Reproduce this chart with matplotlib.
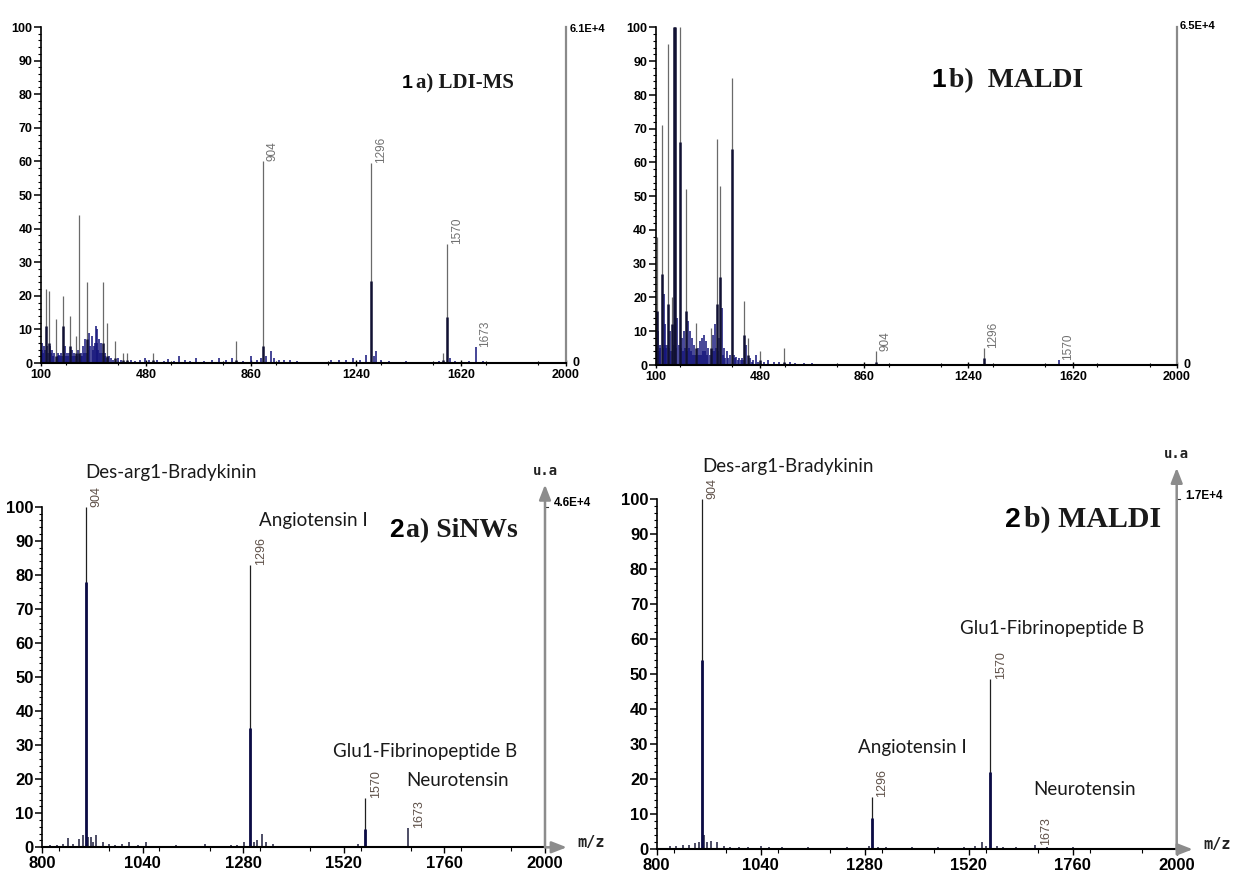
import matplotlib
matplotlib.use('Agg')
import matplotlib.pyplot as plt
from matplotlib.ticker import MultipleLocator

# ---------------- data ----------------
# tall peaks: (m/z, top of thin line %, top of dark core %)
ldi_peaks = [(117, 22, 11), (128, 21.5, 6), (153, 13, 2), (181, 20, 11), (206, 14, 5),
             (227, 8, 3), (239, 44, 3), (266, 24, 7), (325, 24, 6), (340, 12, 2),
             (368, 6.5, 1.5), (395, 3, 1), (410, 3, 1), (506, 3, 1), (805, 6.5, 1),
             (904, 60, 5), (1296, 59.5, 24.5), (1555, 3, 1), (1570, 35.5, 13.6)]
# small peaks / noise: (m/z, %)
ldi_noise = [(102, 4), (105, 6), (108, 3), (110, 5), (113, 4), (121, 5), (125, 3), (131, 4),
             (134, 5), (137, 3), (140, 4), (144, 2), (147, 3), (157, 2), (160, 3), (163, 2),
             (166, 2.5), (169, 2), (172, 3), (176, 2), (185, 3), (188, 5), (191, 2), (194, 3),
             (197, 2), (200, 3), (210, 2), (213, 4), (217, 2), (220, 3), (224, 2), (230, 2),
             (233, 4), (243, 2), (246, 3), (250, 2), (252, 5), (256, 3), (259, 7), (262, 3),
             (270, 4), (275, 9), (279, 5), (283, 8), (287, 4), (291, 5), (295, 6), (298, 11),
             (301, 6), (304, 10), (308, 4), (311, 7), (315, 3), (318, 6), (321, 3), (330, 2),
             (333, 3), (337, 1.5), (344, 1.5), (347, 2), (355, 1.5), (362, 1), (380, 1.5),
             (388, 1), (425, 1), (440, 0.6), (460, 1), (475, 1.5), (490, 0.8), (520, 1),
             (545, 0.7), (560, 1.2), (580, 0.6), (600, 2), (620, 0.8), (640, 0.6), (660, 1.5),
             (690, 0.6), (720, 1), (745, 1.5), (770, 1), (790, 1.5), (830, 0.5), (859, 2),
             (880, 1), (895, 1.5), (915, 2), (931, 3.5), (945, 1.5), (960, 1), (980, 1),
             (1000, 1), (1025, 0.5), (1100, 0.3), (1150, 1), (1180, 0.8), (1205, 1),
             (1230, 1.5), (1255, 1), (1275, 2.5), (1305, 2), (1312, 3.5), (1330, 1),
             (1360, 0.6), (1420, 0.5), (1475, 0.3), (1540, 0.5), (1580, 1.5), (1600, 0.5),
             (1650, 0.5), (1673, 4.7), (1700, 0.5), (1780, 0.3)]
ldi_labels = [(904, 60), (1296, 59.5), (1570, 35.5), (1673, 4.7)]

maldi1_peaks = [(104, 38, 16), (123, 71, 27), (147, 95, 18), (159, 20, 12), (166, 100, 100),
                (172, 100, 100), (190, 100, 66), (211, 52, 16), (247, 12.5, 5), (303, 11, 5),
                (325, 67, 18), (335, 53, 26), (378, 85, 64), (424, 19, 9), (436, 8, 3),
                (480, 4, 1.5), (568, 5, 1), (904, 4.2, 1), (1296, 5.1, 2)]
maldi1_noise = [(101, 5), (107, 6), (110, 10), (113, 4), (115, 5), (118, 6), (127, 5), (130, 21),
                (133, 6), (136, 12), (139, 5), (142, 6), (150, 5), (153, 10), (156, 4), (162, 6),
                (176, 5), (180, 14), (184, 6), (194, 5), (197, 8), (201, 4), (204, 10), (208, 5),
                (215, 4), (218, 13), (222, 5), (225, 10), (229, 4), (232, 8), (236, 3), (240, 6),
                (244, 3), (251, 3), (255, 5), (259, 3), (263, 7), (266, 3), (270, 8), (274, 4),
                (278, 9), (282, 4), (285, 7), (289, 3), (293, 5), (297, 3), (307, 4), (310, 9),
                (314, 4), (318, 12), (321, 5), (329, 4), (333, 8), (341, 17), (345, 3), (350, 5),
                (355, 2), (360, 4), (365, 2), (370, 3), (385, 3), (390, 2), (395, 2.5), (400, 1.5),
                (405, 2), (410, 1.5), (415, 2), (420, 1.5), (430, 6), (445, 2), (450, 1),
                (455, 1.5), (465, 3), (472, 1), (495, 1), (510, 1.5), (530, 1), (550, 1),
                (590, 0.8), (610, 0.6), (640, 0.6), (670, 0.5), (700, 0.4), (740, 0.4),
                (780, 0.3), (820, 0.3), (860, 0.3), (1000, 0.2), (1570, 1.5)]
maldi1_labels = [(904, 4.2), (1296, 5.1), (1570, 1.5)]

sinw_peaks = [(904, 100, 78), (1296, 83, 35), (1570, 14.4, 5.3)]
sinw_noise = [(820, 0.6), (835, 0.8), (850, 1), (863, 2.7), (875, 1), (889, 2.5), (897, 3.5),
              (910, 3), (916, 3), (922, 1.5), (929, 3.5), (945, 1.5), (960, 1), (975, 0.8),
              (990, 1), (1007, 1.5), (1030, 0.8), (1048, 1.5), (1080, 0.5), (1120, 0.6),
              (1150, 0.4), (1189, 1), (1220, 0.5), (1251, 0.8), (1266, 0.8), (1283, 1.5),
              (1305, 1.5), (1313, 2), (1324, 4), (1335, 1.5), (1350, 1), (1380, 0.4),
              (1450, 0.3), (1530, 0.3), (1555, 1), (1673, 5.8), (1700, 0.3)]
sinw_labels = [(904, 100), (1296, 83), (1570, 14.4), (1673, 5.8)]

maldi2_peaks = [(904, 100, 54), (1296, 14.9, 9), (1570, 48.6, 22.2)]
maldi2_noise = [(815, 0.5), (830, 1), (845, 1), (860, 1.2), (875, 1.3), (888, 1.8), (897, 2),
                (908, 4), (915, 2), (926, 2.5), (940, 2), (955, 1), (970, 0.8), (990, 0.6),
                (1010, 0.8), (1040, 1), (1060, 0.6), (1090, 0.6), (1120, 0.5), (1150, 0.6),
                (1180, 0.5), (1210, 0.5), (1240, 0.6), (1270, 0.5), (1290, 1), (1310, 0.8),
                (1330, 0.7), (1360, 0.5), (1390, 0.6), (1420, 0.5), (1450, 0.6), (1480, 0.5),
                (1510, 0.7), (1535, 1), (1551, 2), (1560, 1), (1585, 1), (1600, 0.6),
                (1630, 0.6), (1673, 1.3), (1700, 0.6), (1740, 0.5), (1760, 0.8)]
maldi2_labels = [(904, 100), (1296, 14.9), (1570, 48.6), (1673, 1.3)]

# compound names: (text, m/z, %)
sinw_names = [('Des-arg1-Bradykinin', 1107, 110), ('Angiotensin I', 1448, 96),
              ('Glu1-Fibrinopeptide B', 1713, 28), ('Neurotensin', 1792, 19.5)]
maldi2_names = [('Des-arg1-Bradykinin', 1104, 109.5), ('Angiotensin I', 1389, 29),
                ('Glu1-Fibrinopeptide B', 1713, 63), ('Neurotensin', 1788, 17)]

top_xticks = [100, 480, 860, 1240, 1620, 2000]
bot_xticks = [800, 1040, 1280, 1520, 1760, 2000]

W, H = 1239, 871
TICKFONT = ['Liberation Sans Narrow', 'Liberation Sans', 'DejaVu Sans']
NAMEFONT = ['Lato', 'DejaVu Sans']


def fx(x):
    return x / W


def fy(y):
    return 1 - y / H


def draw_spectrum(ax, peaks, noise, thin_col, core_col, noise_col, core_lw):
    nm = [p[0] for p in noise]
    nh = [p[1] for p in noise]
    ax.vlines(nm, 0, nh, color=noise_col, lw=1.1)
    pm = [p[0] for p in peaks]
    ph = [p[1] for p in peaks]
    pc = [p[2] for p in peaks]
    ax.vlines(pm, 0, ph, color=thin_col, lw=0.9)
    ax.vlines(pm, 0, pc, color=core_col, lw=core_lw)


def style_axis(ax, xlim, xticks, small):
    ax.set_xlim(*xlim)
    ax.set_ylim(0, 100)
    ax.set_xticks(xticks)
    ax.set_yticks(range(0, 101, 10))
    ax.xaxis.set_minor_locator(MultipleLocator((xticks[1] - xticks[0]) / 2))
    ax.yaxis.set_minor_locator(MultipleLocator(2))
    for s in ['top', 'right']:
        ax.spines[s].set_visible(False)
    ax.spines['left'].set_linewidth(1.2)
    ax.spines['bottom'].set_linewidth(1.5)
    fs = 9 if small else 12
    ax.tick_params(axis='y', which='major', length=5, width=1.1, pad=1)
    ax.tick_params(axis='y', which='minor', length=2.5, width=0.8)
    ax.tick_params(axis='x', which='major', length=4, width=1, direction='inout', pad=2)
    ax.tick_params(axis='x', which='minor', length=3, width=0.8, direction='inout')
    for lab in ax.get_xticklabels() + ax.get_yticklabels():
        lab.set_family(TICKFONT)
        lab.set_fontweight('bold')
        lab.set_fontsize(fs)


def peak_labels(ax, labels, color, fs, dx):
    for mz, h in labels:
        ax.annotate(str(mz), (mz, h), xytext=(dx, 0), textcoords='offset points',
                    rotation=90, ha='left', va='bottom', color=color, fontsize=fs,
                    family=['Liberation Sans', 'DejaVu Sans'], annotation_clip=False)


def title(x_num, x_txt, y_base, num, txt, fs):
    plt.figtext(fx(x_num), fy(y_base), num, ha='right', va='baseline', fontsize=fs,
                family=['Liberation Sans', 'DejaVu Sans'], fontweight='bold')
    plt.figtext(fx(x_txt), fy(y_base), txt, ha='left', va='baseline', fontsize=fs + 1,
                family=['Liberation Serif', 'DejaVu Serif'], fontweight='bold', color='#1a1a1a')


fig = plt.figure(figsize=(W / 100, H / 100), dpi=100)

# ---------------- 1a) LDI-MS ----------------
ax1 = fig.add_axes([fx(41), fy(363), (566 - 41) / W, (363 - 27) / H])
draw_spectrum(ax1, ldi_peaks, ldi_noise, '#6a6a6a', '#111133', '#14147a', 1.8)
style_axis(ax1, (100, 2000), top_xticks, True)
ax1.spines['right'].set_visible(True)
ax1.spines['right'].set_color('#8a8a8a')
ax1.spines['right'].set_linewidth(1.6)
ax1.tick_params(axis='y', which='both', right=False)
peak_labels(ax1, ldi_labels, '#707070', 8.5, 2.5)
ax1.text(2014, 99.5, '6.1E+4', fontsize=8, fontweight='bold', family=TICKFONT, va='center')
ax1.text(2022, 0, '0', fontsize=9, fontweight='bold', family=TICKFONT, va='center')
title(413, 416, 88, '1', 'a) LDI-MS', 14)

# ---------------- 1b) MALDI ----------------
ax2 = fig.add_axes([fx(655.5), fy(365), (1177 - 655.5) / W, (365 - 27.5) / H])
draw_spectrum(ax2, maldi1_peaks, maldi1_noise, '#6a6a6a', '#111133', '#14147a', 1.8)
style_axis(ax2, (100, 2000), top_xticks, True)
ax2.spines['right'].set_visible(True)
ax2.spines['right'].set_color('#8a8a8a')
ax2.spines['right'].set_linewidth(1.6)
peak_labels(ax2, maldi1_labels, '#707070', 8.5, 2.5)
ax2.text(2010, 100.5, '6.5E+4', fontsize=8, fontweight='bold', family=TICKFONT, va='center')
ax2.text(2022, 0, '0', fontsize=9, fontweight='bold', family=TICKFONT, va='center')
title(946, 949, 87, '1', 'b)  MALDI', 19)


def bottom_panel(rect, peaks, noise, labels, names, scale_txt, ytip, xtip):
    ax = fig.add_axes(rect)
    draw_spectrum(ax, peaks, noise, '#202020', '#0b0b45', '#1c1c3c', 2.0)
    style_axis(ax, (800, 2000), bot_xticks, False)
    ax.tick_params(axis='x', which='both', direction='out')
    peak_labels(ax, labels, '#5e5048', 9, 3.5)
    for txt, mz, h in names:
        ax.text(mz, h, txt, ha='center', va='center', fontsize=13.5, family=NAMEFONT,
                fontweight='normal', color='#1a1a1a', clip_on=False)
    grey = '#8c8c8c'
    ax.annotate('', xy=(2000, ytip), xytext=(2000, 0), annotation_clip=False,
                arrowprops=dict(arrowstyle='-|>,head_width=0.35,head_length=0.9',
                                color=grey, lw=1.8, shrinkA=0, shrinkB=0))
    ax.annotate('', xy=(xtip, 0), xytext=(2000, 0), annotation_clip=False,
                arrowprops=dict(arrowstyle='-|>,head_width=0.35,head_length=0.9',
                                color=grey, lw=1.8, shrinkA=0, shrinkB=0))
    ax.plot([2000, 2008], [100, 100], color='#333333', lw=0.8, clip_on=False)
    ax.text(2020, 101, scale_txt, fontsize=8.5, fontweight='bold', family=TICKFONT,
            va='center')
    ax.text(2000, ytip + 4, 'u.a', ha='center', va='center', fontsize=10, fontweight='bold',
            family=['DejaVu Sans Mono'], color='#222222', clip_on=False)
    ax.text(xtip + 25, 1.5, 'm/z', ha='left', va='center', fontsize=11, fontweight='bold',
            family=['DejaVu Sans Mono'], color='#222222', clip_on=False)
    return ax


# ---------------- 2a) SiNWs ----------------
bottom_panel([fx(42), fy(847.3), (545 - 42) / W, (847.3 - 506.7) / H],
             sinw_peaks, sinw_noise, sinw_labels, sinw_names, '4.6E+4', 106.5, 2052)
title(404, 406, 537, '2', 'a) SiNWs', 19)

# ---------------- 2b) MALDI ----------------
bottom_panel([fx(656.7), fy(849.3), (1176.7 - 656.7) / W, (849.3 - 499.3) / H],
             maldi2_peaks, maldi2_noise, maldi2_labels, maldi2_names, '1.7E+4', 109, 2037)
title(1021, 1024, 527, '2', 'b) MALDI', 20.5)

fig.savefig('out.png', dpi=100)
